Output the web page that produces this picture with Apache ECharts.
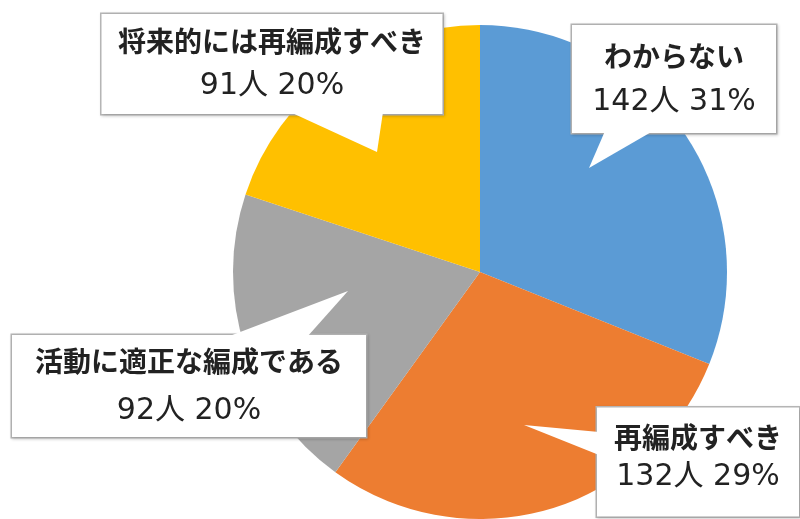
<!DOCTYPE html>
<html><head><meta charset="utf-8">
<script src="https://cdn.jsdelivr.net/npm/echarts@6/dist/echarts.min.js"></script>
<style>html,body{margin:0;padding:0;background:#fff}#c{width:800px;height:519px}</style>
</head><body><div id="c"></div>
<script>
const categories = ['わからない', '再編成すべき', '活動に適正な編成である', '将来的には再編成すべき'];
const counts = [142, 132, 92, 91];
const colors = ['#5B9BD5', '#ED7D31', '#A5A5A5', '#FFC000'];

// callout layout: box center, box width, line height, padding
const boxes = [
  {cx: 674, cy: 79, w: 204, lh: 46, pad: [8, 0, 8, 0]},
  {cx: 698, cy: 462, w: 202, lh: 40, pad: [10, 0, 19, 0]},
  {cx: 189, cy: 386, w: 354, lh: 50, pad: [1, 0, 1, 0]},
  {cx: 272, cy: 64, w: 341, lh: 45, pad: [5, 0, 5, 0]}
];
const pointers = [
  [[605,131],[653,131],[589,168]],
  [[599,432],[599,455],[524,425]],
  [[227,337],[307,337],[348,291]],
  [[290,112],[383,112],[377,152]]
];
const total = counts.reduce((a, b) => a + b, 0);

const chart = echarts.init(document.getElementById('c'));
chart.setOption({
  animation: false,
  backgroundColor: '#fff',
  series: [{
    type: 'pie',
    center: [480, 272],
    radius: 247,
    startAngle: 90,
    clockwise: true,
    avoidLabelOverlap: false,
    itemStyle: {borderWidth: 0},
    labelLine: {show: false},
    data: categories.map((n, i) => ({
      name: n, value: counts[i],
      itemStyle: {color: colors[i]},
      label: {
        width: boxes[i].w, padding: boxes[i].pad,
        rich: {
          a: {fontFamily: '"Noto Sans CJK JP", sans-serif', fontWeight: 'bold', fontSize: 28, color: '#222', lineHeight: boxes[i].lh, align: 'center'},
          b: {fontFamily: '"DejaVu Sans", "Noto Sans CJK JP", sans-serif', fontWeight: 'normal', fontSize: 30, color: '#222', lineHeight: boxes[i].lh, align: 'center'}
        }
      }
    })),
    label: {
      show: true,
      position: 'outside',
      formatter: p => '{a|' + p.name + '}\n{b|' + p.value + '人 ' + Math.round(p.value / total * 100) + '%}',
      align: 'center',
      backgroundColor: '#fff',
      borderColor: '#b5b5b5',
      borderWidth: 1.5,
      shadowColor: 'rgba(0,0,0,0.15)',
      shadowBlur: 3,
      shadowOffsetX: 1,
      shadowOffsetY: 1
    },
    labelLayout: p => ({
      x: boxes[p.dataIndex].cx,
      y: boxes[p.dataIndex].cy,
      align: 'center',
      verticalAlign: 'middle'
    })
  }],
  graphic: pointers.map(pts => ({
    type: 'polygon', z: 100,
    shape: {points: pts},
    style: {fill: '#fff', stroke: null}
  }))
});
</script></body></html>
